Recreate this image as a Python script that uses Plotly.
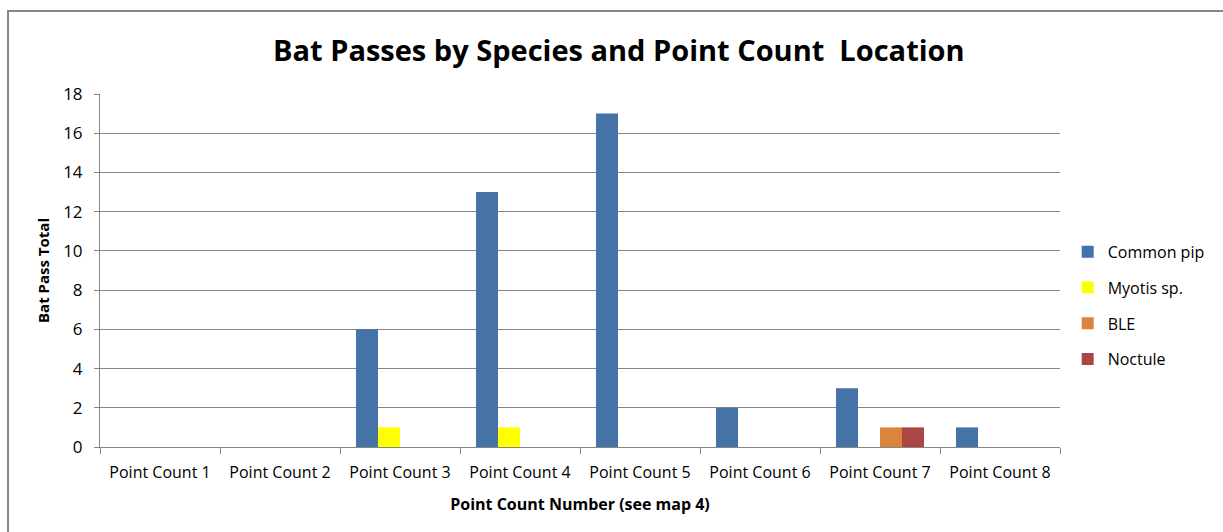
import plotly.graph_objects as go

categories = [f"Point Count {i}" for i in range(1, 9)]
common_pip = [0, 0, 6, 13, 17, 2, 3, 1]
myotis = [0, 0, 1, 1, 0, 0, 0, 0]
ble = [0, 0, 0, 0, 0, 0, 1, 0]
noctule = [0, 0, 0, 0, 0, 0, 1, 0]

series = [
    ("Common pip", common_pip, "#4572A7"),
    ("Myotis sp.", myotis, "#FFFF00"),
    ("BLE", ble, "#DB843D"),
    ("Noctule", noctule, "#AA4643"),
]

FONT = "Open Sans"

fig = go.Figure()
for name, vals, color in series:
    fig.add_trace(go.Bar(x=categories, y=vals, name=name, legendgroup=name,
                         marker=dict(color=color, line=dict(width=0))))

fig.update_layout(
    width=1223, height=532,
    margin=dict(l=100, r=163, t=94, b=85, autoexpand=False),
    paper_bgcolor="white", plot_bgcolor="white",
    barmode="group", bargap=0.267, bargroupgap=0,
    font=dict(family=FONT, size=15, color="#000000"),
    title=dict(text="<b>Bat Passes by Species and Point Count  Location</b>",
               x=0.506, xref="container", xanchor="center", y=0.905, yanchor="middle",
               font=dict(family=FONT, size=29, color="#000000")),
    legend=dict(x=1.008, xanchor="left", y=0.40, yanchor="middle",
                font=dict(family=FONT, size=16, color="#000000"),
                tracegroupgap=12, itemwidth=30, traceorder="grouped"),
    xaxis=dict(
        showline=True, linecolor="#868686", linewidth=1,
        ticks="outside", tickson="boundaries", ticklen=6, tickcolor="#868686",
        tickfont=dict(family=FONT, size=16), ticklabelstandoff=11,
        title=dict(text="<b>Point Count Number (see map 4)</b>",
                   font=dict(family=FONT, size=16), standoff=16),
    ),
    yaxis=dict(
        range=[0, 18], dtick=2,
        showline=True, linecolor="#868686", linewidth=1,
        showgrid=True, gridcolor="#868686", gridwidth=1,
        ticks="outside", ticklen=5, tickcolor="#868686",
        tickfont=dict(family=FONT, size=17), ticklabelstandoff=8,
        title=dict(text="<b>Bat Pass Total</b>",
                   font=dict(family=FONT, size=15), standoff=9),
        zeroline=False,
    ),
    shapes=[dict(type="rect", xref="paper", yref="paper",
                 x0=-0.0958, x1=1.25, y0=-0.3, y1=1.235,
                 line=dict(color="#868686", width=2), fillcolor="rgba(0,0,0,0)")],
)

fig.write_html("out.html")
